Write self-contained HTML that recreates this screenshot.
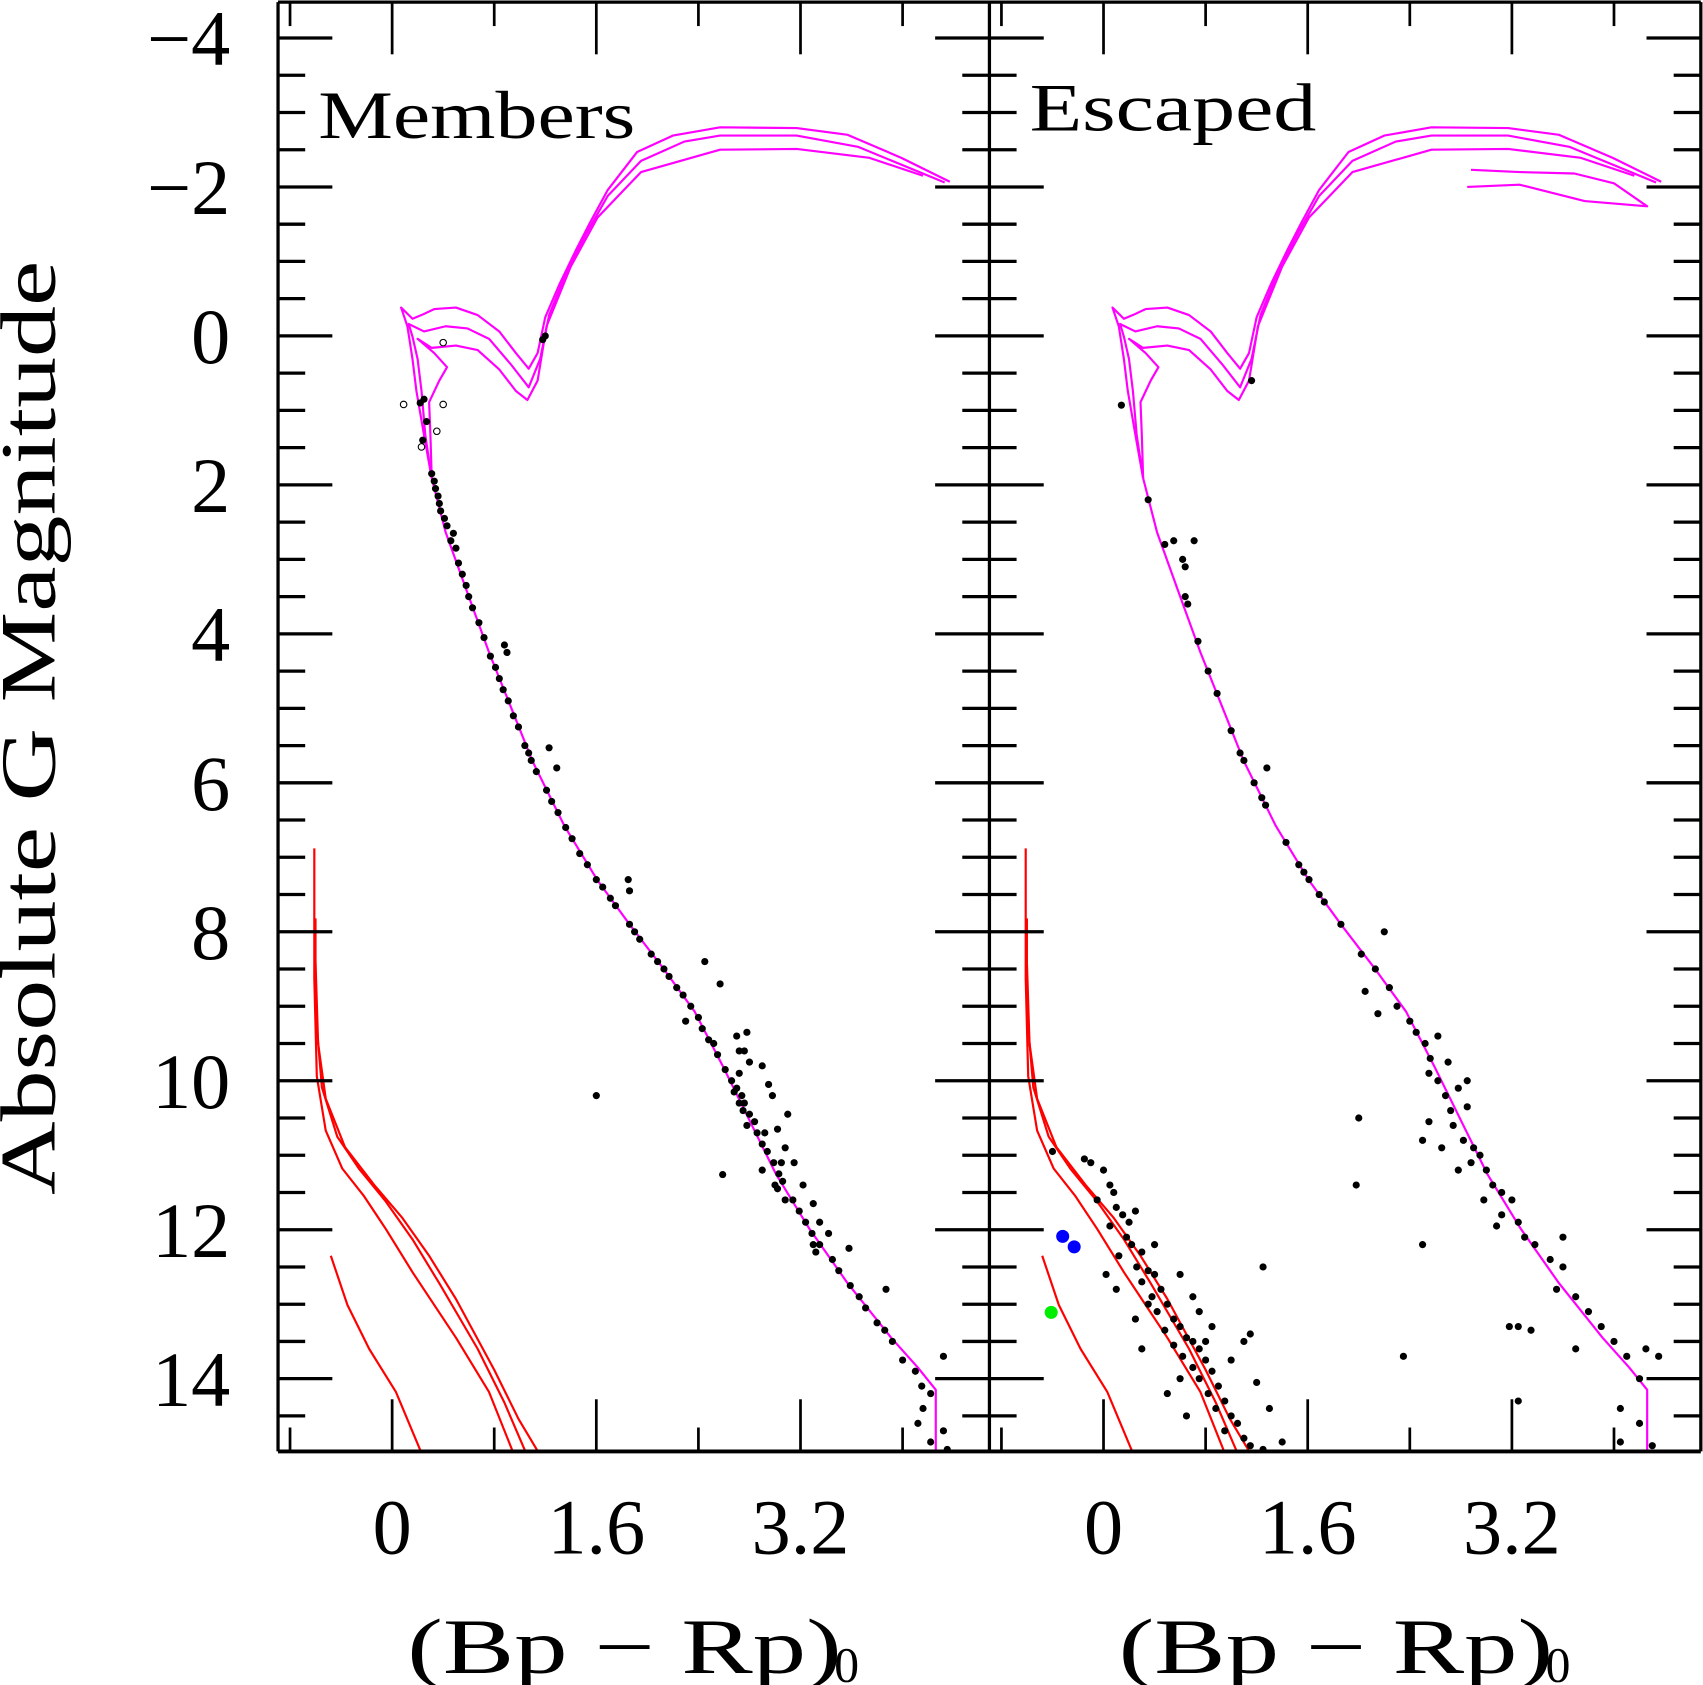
<!DOCTYPE html>
<html><head><meta charset="utf-8"><style>
html,body{margin:0;padding:0;background:#fff;}
svg{display:block;}
text{font-family:"Liberation Serif",serif;fill:#000;}
</style></head><body>
<svg id="chart" width="1703" height="1685" viewBox="0 0 1568 1551" preserveAspectRatio="none" xmlns="http://www.w3.org/2000/svg">
<defs>
<clipPath id="clipL"><rect x="256" y="2" width="655" height="1334"/></clipPath>
<clipPath id="clipR"><rect x="911" y="2" width="655" height="1334"/></clipPath>
</defs>
<g id="gL"></g>
<g id="gR"></g>
<g id="axes"></g>
<text x="293" y="127" font-size="62" textLength="292" lengthAdjust="spacingAndGlyphs">Members</text>
<text x="948" y="120" font-size="62" textLength="264" lengthAdjust="spacingAndGlyphs">Escaped</text>
<text transform="translate(50,670) rotate(-90)" text-anchor="middle" font-size="72" textLength="860" lengthAdjust="spacingAndGlyphs">Absolute G Magnitude</text>
<text x="375" y="1540" font-size="72" textLength="400" lengthAdjust="spacingAndGlyphs">(Bp − Rp)</text>
<text x="768" y="1548" font-size="46">0</text>
<text x="1030" y="1540" font-size="72" textLength="400" lengthAdjust="spacingAndGlyphs">(Bp − Rp)</text>
<text x="1423" y="1548" font-size="46">0</text>
</svg>
<script>
const xTicksMajor=[0,1.6,3.2];
const xTicksMinor=[-0.8,0.8,2.4,4.0];
const yTickLabels=[-4,-2,0,2,4,6,8,10,12,14];
const yTickLabelText=["−4","−2","0","2","4","6","8","10","12","14"];
const isoA=[[0.31,1.91],[0.25,1.33],[0.19,0.74],[0.16,0.31],[0.12,-0.13],[0.07,-0.38],[0.16,-0.23],[0.23,-0.28],[0.33,-0.36],[0.50,-0.38],[0.67,-0.28],[0.84,-0.06],[0.97,0.23],[1.07,0.44],[1.14,0.23],[1.20,-0.25],[1.31,-0.69],[1.44,-1.15],[1.55,-1.52],[1.69,-1.96],[1.92,-2.47],[2.20,-2.69],[2.57,-2.80],[3.17,-2.79],[3.57,-2.70],[3.99,-2.39],[4.37,-2.07]];
const isoB=[[0.31,1.91],[0.26,1.33],[0.23,0.74],[0.20,0.31],[0.16,0.01],[0.13,-0.16],[0.25,-0.06],[0.42,-0.13],[0.59,-0.10],[0.76,0.04],[0.93,0.38],[1.07,0.69],[1.16,0.31],[1.23,-0.28],[1.35,-0.79],[1.52,-1.37],[1.69,-1.88],[1.95,-2.35],[2.29,-2.61],[2.57,-2.69],[3.17,-2.69],[3.65,-2.54],[4.33,-2.06]];
const isoC=[[0.31,1.91],[0.30,1.33],[0.29,0.89],[0.37,0.60],[0.43,0.42],[0.33,0.23],[0.20,0.04],[0.31,0.16],[0.50,0.13],[0.67,0.19],[0.84,0.45],[0.97,0.74],[1.06,0.86],[1.14,0.60],[1.21,-0.13],[1.40,-0.93],[1.61,-1.59],[1.95,-2.20],[2.57,-2.50],[3.17,-2.51],[3.74,-2.39],[4.16,-2.15]];
const isoMS=[[0.31,1.91],[0.42,2.64],[0.59,3.45],[0.76,4.25],[0.93,4.98],[1.10,5.71],[1.35,6.58],[1.61,7.31],[1.86,7.90],[2.12,8.48],[2.37,9.07],[2.59,9.80],[2.80,10.53],[3.01,11.26],[3.27,11.99],[3.57,12.72],[3.91,13.45],[4.12,13.85],[4.26,14.15],[4.26,15.0]];
const isoExtraR=[[2.88,-2.23],[3.26,-2.20],[3.69,-2.18],[4.0,-2.05],[4.26,-1.74],[3.77,-1.81],[3.26,-2.03],[2.85,-2.0]];
const wdA=[[-0.61,6.88],[-0.61,8.63],[-0.59,9.94],[-0.52,10.67],[-0.39,11.18],[-0.22,11.55],[-0.05,11.99],[0.16,12.57],[0.50,13.45],[0.76,14.18],[0.95,15.0]];
const wdB=[[-0.60,7.82],[-0.60,9.07],[-0.55,10.09],[-0.43,10.75],[-0.26,11.18],[-0.05,11.62],[0.16,12.13],[0.37,12.72],[0.67,13.60],[0.88,14.32],[1.05,15.0]];
const wdC=[[-0.60,8.41],[-0.58,9.50],[-0.52,10.24],[-0.37,10.89],[-0.14,11.40],[0.08,11.84],[0.29,12.35],[0.50,12.93],[0.80,13.88],[0.99,14.54],[1.15,15.0]];
const wdD=[[-0.48,12.35],[-0.35,13.01],[-0.18,13.60],[0.03,14.18],[0.23,15.0]];
const membersPts=[[0.22,0.9],[0.25,0.85],[0.24,1.4],[0.27,1.15],[0.31,1.85],[0.33,1.95],[0.34,2.05],[0.36,2.15],[0.37,2.25],[0.38,2.35],[0.41,2.45],[0.43,2.55],[0.48,2.65],[0.46,2.75],[0.50,2.85],[0.52,3.05],[0.55,3.2],[0.58,3.35],[0.60,3.5],[0.63,3.65],[0.68,3.85],[0.72,4.05],[0.88,4.15],[0.90,4.25],[0.77,4.3],[0.81,4.45],[0.84,4.6],[0.87,4.75],[0.91,4.9],[0.95,5.1],[0.99,5.25],[1.04,5.5],[1.07,5.6],[1.09,5.7],[1.13,5.85],[1.23,5.53],[1.29,5.8],[1.21,6.1],[1.25,6.25],[1.30,6.4],[1.36,6.6],[1.41,6.75],[1.47,6.95],[1.53,7.1],[1.60,7.3],[1.65,7.4],[1.71,7.55],[1.75,7.65],[1.85,7.3],[1.86,7.45],[1.86,7.9],[1.90,8.0],[1.94,8.1],[2.03,8.3],[2.08,8.4],[2.13,8.5],[2.17,8.6],[2.23,8.75],[2.28,8.85],[2.34,9.0],[2.40,9.15],[2.30,9.2],[2.43,9.3],[2.48,9.45],[2.52,9.5],[2.55,9.65],[2.45,8.4],[2.57,8.7],[2.70,9.4],[2.72,9.6],[2.61,9.85],[2.66,10.0],[2.70,10.1],[2.74,10.2],[2.76,10.3],[2.75,10.4],[2.80,10.45],[2.84,10.55],[2.86,10.7],[2.90,10.85],[2.94,10.95],[2.99,11.1],[3.03,11.25],[3.06,11.35],[3.02,11.45],[3.14,11.6],[3.19,11.75],[3.24,11.9],[3.29,12.05],[3.35,12.2],[3.32,12.3],[3.45,12.4],[3.50,12.55],[3.59,12.75],[3.66,12.9],[3.71,13.05],[3.80,13.25],[3.86,13.35],[3.92,13.5],[4.00,13.75],[4.10,13.9],[4.15,14.1],[4.22,14.2],[4.16,14.4],[4.12,14.6],[4.22,14.85],[4.27,15.0],[4.35,14.95],[4.32,14.7],[4.32,13.7],[3.87,12.8],[3.58,12.25],[3.42,12.05],[3.30,11.65],[3.22,11.4],[3.15,11.1],[3.08,10.9],[3.02,10.65],[3.10,10.45],[2.98,10.2],[2.95,10.05],[2.90,9.8],[2.80,9.75],[2.76,9.6],[2.78,9.35],[2.72,9.9],[2.78,10.6],[2.72,10.3],[2.68,10.15],[2.92,10.7],[3.05,11.1],[2.90,11.2],[3.00,11.4],[3.08,11.6],[3.35,11.9],[3.30,12.2],[2.59,11.26],[1.60,10.2],[1.18,0.05],[1.20,0.0]];
const membersOpen=[[0.09,0.92],[0.40,0.92],[0.35,1.28],[0.40,0.09],[0.23,1.49]];
const escapedPts=[[0.14,0.93],[1.16,0.6],[0.35,2.2],[0.48,2.8],[0.55,2.75],[0.71,2.75],[0.62,3.0],[0.64,3.1],[0.64,3.5],[0.66,3.6],[0.74,4.1],[0.82,4.5],[0.89,4.8],[1.0,5.3],[1.07,5.6],[1.10,5.7],[1.28,5.8],[1.18,6.0],[1.24,6.2],[1.27,6.3],[1.43,6.8],[1.53,7.1],[1.57,7.2],[1.61,7.3],[1.69,7.5],[1.73,7.6],[1.86,7.9],[2.20,8.0],[2.02,8.3],[2.13,8.5],[2.05,8.8],[2.24,8.75],[2.30,9.0],[2.40,9.2],[2.15,9.1],[2.45,9.35],[2.52,9.5],[2.56,9.7],[2.62,9.4],[2.55,9.9],[2.62,10.0],[2.68,10.2],[2.72,10.4],[2.78,10.1],[2.85,10.0],[2.74,10.6],[2.82,10.8],[2.9,10.9],[2.95,11.0],[3.0,11.2],[3.05,11.4],[3.12,11.5],[3.2,11.6],[3.12,11.8],[3.25,11.9],[3.3,12.1],[3.38,12.2],[3.5,12.4],[3.6,12.5],[3.55,12.8],[3.7,12.9],[3.8,13.1],[3.9,13.3],[4.0,13.5],[4.1,13.7],[3.18,13.3],[3.25,13.3],[3.35,13.35],[3.7,13.6],[4.25,13.6],[4.35,13.7],[4.2,14.0],[4.05,14.4],[4.2,14.6],[4.3,14.9],[2.0,10.5],[2.5,10.8],[1.98,11.4],[2.5,12.2],[3.6,12.1],[2.35,13.7],[3.25,14.3],[4.05,14.85],[2.55,10.55],[2.65,10.9],[2.78,11.2],[2.88,11.1],[2.98,11.6],[3.08,11.95],[2.7,9.75],[2.85,10.35],
[-0.4,10.95],[-0.15,11.05],[-0.1,11.1],[0.0,11.2],[0.05,11.4],[0.08,11.5],[-0.05,11.6],[0.1,11.7],[0.15,11.8],[0.2,11.9],[0.25,11.75],[0.05,11.95],[0.18,12.1],[0.22,12.2],[0.3,12.3],[0.12,12.35],[0.26,12.5],[0.35,12.55],[0.4,12.6],[0.3,12.7],[0.45,12.8],[0.38,12.9],[0.5,13.0],[0.42,13.1],[0.55,13.2],[0.6,13.3],[0.48,13.35],[0.65,13.45],[0.7,13.5],[0.55,13.55],[0.75,13.6],[0.62,13.7],[0.8,13.75],[0.7,13.85],[0.85,13.9],[0.75,14.0],[0.9,14.1],[0.82,14.2],[0.95,14.3],[0.88,14.4],[1.0,14.5],[1.05,14.6],[0.95,14.7],[1.1,14.8],[1.15,14.9],[1.25,14.95],[1.4,14.85],[0.7,12.9],[0.8,13.5],[0.75,13.1],[0.85,13.3],[0.6,12.6],[0.4,12.2],[0.35,13.0],[0.3,13.6],[0.6,14.0],[1.1,13.5],[1.2,14.05],[1.0,13.75],[1.15,13.4],[0.25,13.2],[0.1,12.8],[0.02,12.6],[1.3,14.4],[0.5,14.2],[0.65,14.5],[1.2,15.0],[0.0,15.0],[1.25,12.5]];
const escapedBlue=[[-0.32,12.09],[-0.23,12.23]];
const escapedGreen=[[-0.41,13.11]];

const NS="http://www.w3.org/2000/svg";
const PX=117.5, CMIN=-0.894, YTOP=2, YBOT=1336;
function xs(panelX0,c){return panelX0+(c-CMIN)*PX;}
function ys(m){return 309.2+m*68.56;}
function mk(tag,parent){const e=document.createElementNS(NS,tag);parent.appendChild(e);return e;}

function drawPanel(g,x0,clip,pts,extra){
  g.setAttribute('clip-path','url(#'+clip+')');
  const lines=[["iso-a",isoA,"#ff00ff"],["iso-b",isoB,"#ff00ff"],["iso-c",isoC,"#ff00ff"],["iso-ms",isoMS,"#ff00ff"],["wd-track-a",wdA,"#ff0000"],["wd-track-b",wdB,"#ff0000"],["wd-track-c",wdC,"#ff0000"],["wd-track-d",wdD,"#ff0000"]];
  if(extra) lines.push(["iso-extra-loop",isoExtraR,"#ff00ff"]);
  for(const [nm,arr,col] of lines){
    const p=mk('polyline',g);
    
    
    p.setAttribute('points',arr.map(d=>xs(x0,d[0]).toFixed(1)+','+ys(d[1]).toFixed(1)).join(' '));
    p.setAttribute('fill','none');p.setAttribute('stroke',col);p.setAttribute('stroke-width','2');p.setAttribute('stroke-linejoin','round');
  }
  for(const d of pts){
    const c=mk('circle',g);
    
    
    c.setAttribute('cx',xs(x0,d[0]));c.setAttribute('cy',ys(d[1]));c.setAttribute('r','3.3');c.setAttribute('fill','#000');
  }
}
const gL=document.getElementById('gL'), gR=document.getElementById('gR');
drawPanel(gL,256,'clipL',membersPts,false);
for(const d of membersOpen){
  const c=mk('circle',gL);
  
  
  c.setAttribute('cx',xs(256,d[0]));c.setAttribute('cy',ys(d[1]));c.setAttribute('r','3');c.setAttribute('fill','#fff');c.setAttribute('stroke','#000');c.setAttribute('stroke-width','1');
}
drawPanel(gR,911,'clipR',escapedPts,true);
for(const d of escapedBlue){
  const c=mk('circle',gR);
  
  
  c.setAttribute('cx',xs(911,d[0]));c.setAttribute('cy',ys(d[1]));c.setAttribute('r','6');c.setAttribute('fill','#0000ff');
}
for(const d of escapedGreen){
  const c=mk('circle',gR);
  
  
  c.setAttribute('cx',xs(911,d[0]));c.setAttribute('cy',ys(d[1]));c.setAttribute('r','6');c.setAttribute('fill','#00ee00');
}

const ax=document.getElementById('axes');
function line(x1,y1,x2,y2,w,name){
  const l=mk('line',ax);
  
  
  l.setAttribute('x1',x1);l.setAttribute('y1',y1);l.setAttribute('x2',x2);l.setAttribute('y2',y2);
  l.setAttribute('stroke','#000');l.setAttribute('stroke-width',w);
}
line(256,YTOP,1566,YTOP,3,'frame-top');
line(256,YBOT,1566,YBOT,3.5,'frame-bottom');
line(256,YTOP,256,YBOT,3,'frame-left');
line(911,YTOP,911,YBOT,3,'frame-divider');
line(1566,YTOP,1566,YBOT,3,'frame-right');
for(const x0 of [256,911]){
  for(const t of xTicksMajor){const x=xs(x0,t);line(x,YBOT,x,YBOT-48,2.5,'x-tick-major');line(x,YTOP,x,YTOP+48,2.5,'x-tick-major-top');}
  for(const t of xTicksMinor){const x=xs(x0,t);line(x,YBOT,x,YBOT-22,2.5,'x-tick-minor');line(x,YTOP,x,YTOP+22,2.5,'x-tick-minor-top');}
  xTicksMajor.forEach(t=>{
    const tx=mk('text',ax);
    
    
    tx.setAttribute('x',xs(x0,t));tx.setAttribute('y',1430);tx.setAttribute('text-anchor','middle');tx.setAttribute('font-size','72');
    tx.textContent=String(t);
  });
}
for(let m=-4;m<=14.5;m+=0.5){
  const y=ys(m); const major=(Math.abs(m%2)<1e-9);
  const L=major?50:25;
  line(256,y,256+L,y,3,'y-tick');
  line(911-L,y,911+L,y,3,'y-tick-mid');
  line(1566-L,y,1566,y,3,'y-tick-right');
}
yTickLabels.forEach((v,i)=>{
  const tx=mk('text',ax);
  
  
  tx.setAttribute('x',212);tx.setAttribute('y',ys(v)+25);tx.setAttribute('text-anchor','end');tx.setAttribute('font-size','72');
  tx.textContent=yTickLabelText[i];
});
</script>
</body></html>
